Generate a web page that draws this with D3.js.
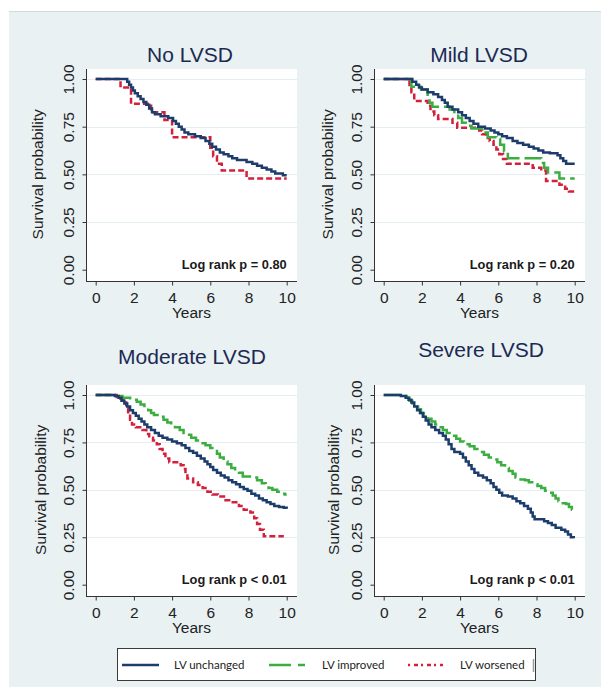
<!DOCTYPE html>
<meta charset="utf-8">
<style>
  body { margin: 0; background: #fff; }
  svg { display: block; font-family: "Liberation Sans", Arial, sans-serif; }
  .grid line { stroke: #e4eef1; stroke-width: 1; }
  .axis path { display: none; }
  .axis line { stroke: #333; }
  .axis text { fill: #222; font-size: 15.5px; }
  .title { fill: #1c2a52; font-size: 21px; }
  .axlabel { fill: #222; font-size: 15.5px; }
  .logrank { fill: #1a1a1a; font-size: 12.8px; font-weight: bold; }
  .legend text { font-family: Lato, "Open Sans", sans-serif; font-size: 11.5px; fill: #222; }
</style>
<body>
<svg id="chart" width="601" height="687"></svg>
<script src="https://d3js.org/d3.v7.min.js"></script>
<script>
// ---- data (time in years, survival probability) ----
var yearTicks = [0, 2, 4, 6, 8, 10];
var survTicks = [0, 0.25, 0.5, 0.75, 1];
var gridTicks = [0.25, 0.5, 0.75, 1];
var panelTitles = ["No LVSD", "Mild LVSD", "Moderate LVSD", "Severe LVSD"];
var logRankLabels = ["Log rank p = 0.80", "Log rank p = 0.20", "Log rank p < 0.01", "Log rank p < 0.01"];
var groupNames = ["LV unchanged", "LV improved", "LV worsened"];

var noUnchanged = [[0,1],[1.65,0.985],[1.75,0.97],[1.85,0.955],[1.95,0.94],[2.05,0.925],[2.2,0.91],[2.35,0.895],[2.5,0.88],[2.65,0.865],[2.8,0.845],[2.95,0.825],[3.1,0.815],[3.4,0.805],[3.8,0.795],[4.05,0.78],[4.2,0.765],[4.35,0.75],[4.5,0.735],[4.65,0.72],[4.85,0.71],[5.2,0.70],[5.5,0.69],[5.75,0.675],[5.95,0.66],[6.1,0.645],[6.3,0.63],[6.5,0.615],[6.7,0.605],[6.95,0.595],[7.15,0.585],[7.4,0.575],[7.9,0.565],[8.2,0.555],[8.45,0.545],[8.7,0.535],[8.95,0.525],[9.2,0.515],[9.4,0.505],[9.8,0.495],[10,0.495]];
var noWorsened = [[0,1],[1.3,0.955],[1.85,0.87],[2.9,0.825],[3.6,0.785],[4.0,0.695],[6.0,0.64],[6.15,0.595],[6.35,0.555],[6.6,0.52],[7.9,0.478],[10,0.478]];

var mildUnchanged = [[0,1],[1.5,0.985],[1.7,0.97],[1.85,0.955],[2.0,0.945],[2.3,0.93],[2.6,0.92],[2.85,0.905],[3.05,0.89],[3.2,0.875],[3.35,0.855],[3.6,0.84],[3.9,0.825],[4.1,0.81],[4.3,0.795],[4.5,0.78],[4.7,0.765],[4.95,0.75],[5.3,0.74],[5.6,0.73],[5.8,0.72],[6.0,0.71],[6.2,0.70],[6.45,0.69],[6.75,0.675],[7.0,0.665],[7.3,0.655],[7.6,0.645],[7.85,0.635],[8.1,0.625],[8.35,0.615],[8.7,0.61],[9.1,0.60],[9.25,0.585],[9.4,0.57],[9.55,0.555],[10,0.555]];
var mildImproved = [[0,1],[1.45,0.96],[1.95,0.945],[2.3,0.91],[2.4,0.875],[2.55,0.855],[3.45,0.84],[3.7,0.815],[3.9,0.795],[4.1,0.77],[4.3,0.755],[4.6,0.74],[5.25,0.72],[5.45,0.695],[5.9,0.685],[6.1,0.655],[6.3,0.62],[6.5,0.585],[8.25,0.56],[8.4,0.535],[8.6,0.51],[9.2,0.478],[10,0.478]];
var mildWorsened = [[0,1],[1.35,0.96],[1.45,0.93],[1.6,0.885],[2.3,0.86],[2.45,0.83],[2.65,0.81],[2.85,0.79],[3.6,0.77],[3.85,0.745],[5.0,0.73],[5.15,0.71],[5.35,0.69],[5.55,0.675],[5.75,0.655],[5.9,0.63],[6.05,0.605],[6.25,0.58],[6.45,0.555],[7.8,0.535],[8.25,0.52],[8.5,0.465],[9.2,0.445],[9.5,0.425],[9.7,0.41],[10,0.405]];

var modUnchanged = [[0,1],[1.0,0.995],[1.2,0.985],[1.35,0.97],[1.5,0.955],[1.65,0.94],[1.8,0.92],[1.95,0.905],[2.1,0.89],[2.25,0.875],[2.4,0.86],[2.55,0.845],[2.7,0.83],[2.9,0.815],[3.1,0.8],[3.3,0.785],[3.5,0.775],[3.75,0.765],[4.0,0.755],[4.25,0.745],[4.5,0.735],[4.7,0.72],[4.9,0.705],[5.1,0.695],[5.3,0.68],[5.5,0.665],[5.7,0.65],[5.85,0.635],[6.0,0.62],[6.15,0.605],[6.35,0.59],[6.55,0.575],[6.75,0.565],[6.95,0.55],[7.15,0.54],[7.35,0.53],[7.55,0.515],[7.75,0.505],[7.95,0.495],[8.15,0.48],[8.35,0.47],[8.55,0.455],[8.75,0.445],[8.95,0.435],[9.15,0.425],[9.35,0.415],[9.6,0.41],[9.85,0.405],[10,0.40]];
var modImproved = [[0,1],[1.1,0.995],[1.4,0.985],[1.8,0.975],[2.15,0.965],[2.35,0.95],[2.55,0.935],[2.75,0.92],[2.9,0.905],[3.05,0.895],[3.4,0.885],[3.55,0.87],[3.75,0.855],[3.95,0.84],[4.15,0.83],[4.4,0.815],[4.6,0.8],[4.8,0.79],[5.0,0.775],[5.25,0.76],[5.5,0.745],[5.75,0.735],[6.0,0.72],[6.2,0.705],[6.35,0.69],[6.5,0.67],[6.7,0.65],[6.9,0.635],[7.1,0.615],[7.3,0.6],[7.5,0.59],[7.7,0.57],[8.2,0.565],[8.45,0.55],[8.7,0.535],[8.9,0.525],[9.05,0.51],[9.25,0.5],[9.5,0.49],[9.75,0.48],[9.9,0.475],[10,0.475]];
var modWorsened = [[0,1],[1.1,0.99],[1.3,0.98],[1.45,0.96],[1.6,0.93],[1.7,0.9],[1.8,0.87],[1.9,0.845],[2.1,0.83],[2.45,0.815],[2.65,0.795],[2.8,0.775],[3.0,0.76],[3.2,0.74],[3.35,0.715],[3.5,0.69],[3.65,0.665],[3.85,0.645],[4.45,0.63],[4.6,0.61],[4.7,0.585],[4.8,0.56],[5.1,0.54],[5.35,0.525],[5.6,0.51],[5.85,0.49],[6.1,0.475],[6.4,0.465],[6.8,0.445],[7.1,0.435],[7.5,0.415],[7.75,0.395],[8.1,0.38],[8.3,0.35],[8.45,0.32],[8.6,0.29],[8.8,0.255],[9.85,0.255]];

var sevUnchanged = [[0,1],[0.9,0.995],[1.15,0.985],[1.3,0.975],[1.45,0.96],[1.6,0.94],[1.75,0.92],[1.9,0.905],[2.05,0.885],[2.2,0.865],[2.35,0.845],[2.5,0.83],[2.7,0.815],[2.9,0.8],[3.1,0.785],[3.25,0.765],[3.4,0.74],[3.55,0.715],[3.7,0.7],[4.0,0.69],[4.15,0.67],[4.3,0.65],[4.45,0.63],[4.6,0.61],[4.75,0.59],[4.95,0.575],[5.2,0.565],[5.4,0.55],[5.6,0.535],[5.75,0.515],[5.9,0.5],[6.05,0.485],[6.2,0.47],[6.5,0.465],[6.75,0.455],[6.95,0.44],[7.15,0.43],[7.35,0.415],[7.55,0.4],[7.7,0.38],[7.8,0.36],[7.9,0.345],[8.4,0.335],[8.6,0.325],[8.8,0.315],[9.0,0.3],[9.3,0.29],[9.5,0.28],[9.65,0.265],[9.8,0.25],[9.95,0.245]];
var sevImproved = [[0,1],[1.0,0.995],[1.2,0.985],[1.35,0.97],[1.5,0.955],[1.65,0.94],[1.8,0.925],[1.95,0.905],[2.1,0.89],[2.3,0.875],[2.5,0.86],[2.7,0.845],[2.9,0.83],[3.1,0.815],[3.3,0.8],[3.55,0.785],[3.8,0.77],[4.0,0.755],[4.2,0.74],[4.5,0.73],[4.75,0.715],[5.0,0.7],[5.25,0.685],[5.5,0.67],[5.75,0.66],[5.95,0.645],[6.15,0.63],[6.35,0.615],[6.55,0.6],[6.75,0.585],[6.9,0.565],[7.05,0.555],[7.4,0.55],[7.6,0.54],[7.85,0.53],[8.05,0.52],[8.25,0.51],[8.45,0.495],[8.65,0.485],[8.85,0.47],[9.0,0.455],[9.15,0.44],[9.3,0.43],[9.55,0.425],[9.7,0.41],[9.85,0.395],[10,0.388]];

// ---- styles ----
var lineStyle = {
  "LV unchanged": { color: "#1c3d6c", dash: null },
  "LV improved": { color: "#3aae3f", dash: "17,5" },
  "LV worsened": { color: "#d3203c", dash: "6,3" }
};

// panel layout: plot region box + text positions
var panels = [
  { title: panelTitles[0], p: logRankLabels[0], x0: 86, x1: 297, y0: 69, y1: 281, titleX: 190, titleY: 62, ylabX: 43,
    curves: [["LV unchanged", noUnchanged], ["LV worsened", noWorsened]] },
  { title: panelTitles[1], p: logRankLabels[1], x0: 374, x1: 585, y0: 69, y1: 281, titleX: 479, titleY: 62, ylabX: 333,
    curves: [["LV unchanged", mildUnchanged], ["LV improved", mildImproved], ["LV worsened", mildWorsened]] },
  { title: panelTitles[2], p: logRankLabels[2], x0: 86, x1: 297, y0: 385, y1: 596, titleX: 192, titleY: 364, ylabX: 46,
    curves: [["LV unchanged", modUnchanged], ["LV improved", modImproved], ["LV worsened", modWorsened]] },
  { title: panelTitles[3], p: logRankLabels[3], x0: 374, x1: 585, y0: 385, y1: 596, titleX: 481, titleY: 357, ylabX: 339,
    curves: [["LV unchanged", sevUnchanged], ["LV improved", sevImproved]] }
];

var svg = d3.select("#chart");

// graph region background
svg.append("rect").attr("x", 9).attr("y", 11).attr("width", 592).attr("height", 676).attr("fill", "#e9f1f3");
svg.append("line").attr("x1", 9).attr("x2", 601).attr("y1", 11.5).attr("y2", 11.5).attr("stroke", "#d6d9da");

panels.forEach(function (pn) {
  var x = d3.scaleLinear().domain([0, 10]).range([pn.x0 + 9.7, pn.x1 - 10.3]);
  var y = d3.scaleLinear().domain([0, 1]).range([pn.y1 - 11.3, pn.y0 + 10]);
  var g = svg.append("g");

  g.append("rect").attr("x", pn.x0).attr("y", pn.y0)
    .attr("width", pn.x1 - pn.x0).attr("height", pn.y1 - pn.y0).attr("fill", "#fff");

  g.append("g").attr("class", "grid")
    .selectAll("line").data(gridTicks).enter().append("line")
    .attr("x1", pn.x0).attr("x2", pn.x1)
    .attr("y1", function (d) { return Math.round(y(d)) + 0.5; })
    .attr("y2", function (d) { return Math.round(y(d)) + 0.5; });

  var line = d3.line().curve(d3.curveStepAfter)
    .x(function (d) { return x(d[0]); })
    .y(function (d) { return y(d[1]); });

  pn.curves.slice().reverse().forEach(function (c) {
    var st = lineStyle[c[0]];
    g.append("path").datum(c[1])
      .attr("d", line)
      .attr("fill", "none")
      .attr("stroke", st.color)
      .attr("stroke-width", 2.5)
      .attr("stroke-dasharray", st.dash);
  });

  // axes
  var yAx = g.append("g").attr("class", "axis")
    .attr("transform", "translate(" + (pn.x0 + 0.5) + ",0)")
    .call(d3.axisLeft(y).tickValues(survTicks).tickFormat(d3.format(".2f")).tickSize(4).tickSizeOuter(0));
  yAx.selectAll("text")
    .attr("x", null).attr("dy", null).attr("text-anchor", "middle")
    .attr("transform", "translate(-13,0) rotate(-90)");

  var xAx = g.append("g").attr("class", "axis")
    .attr("transform", "translate(0," + (pn.y1 + 0.5) + ")")
    .call(d3.axisBottom(x).tickValues(yearTicks).tickSize(4).tickSizeOuter(0));
  xAx.selectAll("text").attr("y", 21).attr("dy", null);

  g.append("line").attr("x1", pn.x0 + 0.5).attr("x2", pn.x0 + 0.5)
    .attr("y1", pn.y0).attr("y2", pn.y1 + 0.5).attr("stroke", "#333");
  g.append("line").attr("x1", pn.x0).attr("x2", pn.x1)
    .attr("y1", pn.y1 + 0.5).attr("y2", pn.y1 + 0.5).attr("stroke", "#333");

  g.append("text").attr("class", "title")
    .attr("x", pn.titleX).attr("y", pn.titleY)
    .attr("text-anchor", "middle").text(pn.title);

  g.append("text").attr("class", "axlabel")
    .attr("text-anchor", "middle")
    .attr("transform", "translate(" + pn.ylabX + "," + ((y(0) + y(1)) / 2) + ") rotate(-90)")
    .text("Survival probability");

  g.append("text").attr("class", "axlabel")
    .attr("x", (pn.x0 + pn.x1) / 2).attr("y", pn.y1 + 37)
    .attr("text-anchor", "middle").text("Years");

  g.append("text").attr("class", "logrank")
    .attr("x", x(10)).attr("y", y(0) - 1)
    .attr("text-anchor", "end").text(pn.p);
});

// legend
var lg = svg.append("g").attr("class", "legend");
lg.append("rect").attr("x", 117.5).attr("y", 648.5).attr("width", 418).attr("height", 32)
  .attr("fill", "#fff").attr("stroke", "#3a3a3a");
lg.append("line").attr("x1", 533.5).attr("x2", 533.5).attr("y1", 659).attr("y2", 672)
  .attr("stroke", "#9a9a9a").attr("stroke-width", 1.5);

var legendSwatch = { "LV unchanged": [122, 159, null], "LV improved": [269, 305, "22,7"], "LV worsened": [408, 443, "2,4,4,3"] };
var legendText = { "LV unchanged": 174, "LV improved": 322, "LV worsened": 460 };

groupNames.forEach(function (name) {
  var s = legendSwatch[name];
  lg.append("line").attr("x1", s[0]).attr("x2", s[1]).attr("y1", 665).attr("y2", 665)
    .attr("stroke", lineStyle[name].color).attr("stroke-width", 2.5)
    .attr("stroke-dasharray", s[2]);
  lg.append("text").attr("x", legendText[name]).attr("y", 669).text(name);
});
</script>
</body>
